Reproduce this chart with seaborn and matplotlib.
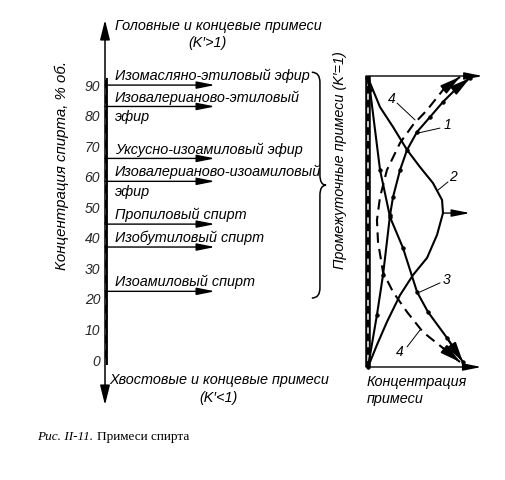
import numpy as np
import pandas as pd
import matplotlib
matplotlib.use("Agg")
import matplotlib.pyplot as plt
from matplotlib.path import Path
from matplotlib.patches import PathPatch
import seaborn as sns

sns.set_theme(style="white")
plt.rcParams['font.family'] = ['Liberation Sans', 'DejaVu Sans']

# ---------------- data ----------------
tick_values = [0, 10, 20, 30, 40, 50, 60, 70, 80, 90]
impurity_top = ["Изомасляно-этиловый эфир", "Изовалерианово-этиловый",
                "Уксусно-изоамиловый эфир", "Изовалерианово-изоамиловый",
                "Пропиловый спирт", "Изобутиловый спирт", "Изоамиловый спирт"]
impurity_bottom = ["", "эфир", "", "эфир", "", "", ""]
impurity_conc = [90, 83, 66, 58.5, 44.5, 37, 22.5]
column_range = [-1.6, 92.3]
brace_range = [20.3, 94.2]

curve1_x = [1.7, 9.2, 14.3, 20.2, 22.7, 28.6, 34.5, 42.9, 53.8, 64.7, 76.5, 87.4]
curve1_y = [0.0, 17.9, 31.6, 52.2, 58.4, 67.7, 74.6, 80.8, 85.9, 91.1, 95.9, 99.3]
curve2_x = [1.7, 11.8, 22.7, 34.5, 45.4, 56.3, 63.9, 64.7, 59.7, 51.3, 39.5, 28.6, 17.6, 9.2, 1.7]
curve2_y = [99.3, 89.3, 82.5, 74.6, 68.7, 63.2, 57.4, 52.9, 45.4, 37.5, 31.6, 24.7, 15.5, 7.6, 0.0]
curve3_x = [0.8, 3.4, 11.8, 20.2, 31.1, 42.9, 52.1, 68.1, 81.5]
curve3_y = [99.3, 95.2, 67.7, 51.5, 40.9, 25.8, 18.9, 10.0, 1.7]
curve4_x = [79.0, 64.7, 51.3, 39.5, 28.6, 17.6, 11.8, 9.2, 10.1, 14.3, 22.7, 34.5, 47.9, 64.7, 79.0]
curve4_y = [99.7, 95.2, 88.3, 83.2, 77.0, 67.7, 58.4, 50.5, 43.0, 32.6, 25.8, 18.9, 12.0, 6.5, 1.7]

curve_labels = ["4", "1", "2", "3", "4"]
label_pos_x = [21.8, 68.9, 73.1, 68.1, 28.6]
label_pos_y = [92.1, 83.2, 65.3, 29.9, 5.2]
leader_from_x = [26.1, 62.2, 68.9, 62.2, 34.5]
leader_from_y = [90.7, 82.1, 63.6, 28.9, 6.9]
leader_to_x = [41.2, 43.7, 60.5, 45.4, 45.4]
leader_to_y = [84.9, 80.4, 60.8, 25.8, 12.7]

FS = 10.4
ital = dict(fontstyle='italic', color='black')

fig = plt.figure(figsize=(5.06, 4.80), dpi=100)
fig.patch.set_facecolor('white')

# ---------------- left panel ----------------
axL = fig.add_axes([105/506, 75/480, 220/506, 385/480])
axL.set_xlim(0, 100)
axL.set_ylim(-14.7, 111.3)
for s in axL.spines.values():
    s.set_visible(False)
axL.set_xticks([])
axL.set_yticks(tick_values)
axL.set_yticklabels([str(v) for v in tick_values], fontstyle='italic', fontsize=10)
axL.tick_params(axis='y', length=0, pad=3.5)
axL.set_facecolor('none')

ap_axis = dict(arrowstyle='-|>,head_length=1.0,head_width=0.25', color='black',
               lw=1.1, mutation_scale=12, shrinkA=0, shrinkB=0)
axL.annotate("", xy=(0, 111.3), xytext=(0, 45), arrowprops=ap_axis, annotation_clip=False)
axL.annotate("", xy=(0, -14.7), xytext=(0, 45), arrowprops=ap_axis, annotation_clip=False)

sns.lineplot(x=[0, 0], y=column_range, color='black', lw=4.2, sort=False,
             estimator=None, ax=axL, solid_capstyle='butt')
axL.plot([0, 0], column_range, color='white', lw=1.2, dashes=(4, 5))

ap_imp = dict(arrowstyle='-|>,head_length=1.1,head_width=0.22', color='black',
              lw=1.0, mutation_scale=10, shrinkA=0, shrinkB=0)
for top, bot, c in zip(impurity_top, impurity_bottom, impurity_conc):
    axL.annotate("", xy=(50, c), xytext=(0, c), arrowprops=ap_imp)
    axL.annotate(top, xy=(4.5, c), xytext=(0, 3.5), textcoords='offset points',
                 va='baseline', ha='left', fontsize=FS, **ital)
    if bot:
        axL.annotate(bot, xy=(4.5, c), xytext=(0, -2.5), textcoords='offset points',
                     va='top', ha='left', fontsize=FS, **ital)

axL.text(51.4, 109.3, "Головные и концевые примеси", ha='center', va='center', fontsize=FS, **ital)
axL.text(46.4, 103.8, "(K′>1)", ha='center', va='center', fontsize=FS, **ital)
axL.text(52.0, -6.5, "Хвостовые и концевые примеси", ha='center', va='center', fontsize=FS, **ital)
axL.text(51.4, -12.4, "(K′<1)", ha='center', va='center', fontsize=FS, **ital)
axL.text(-0.195, 0.621, "Концентрация спирта, % об.", rotation=90, ha='center', va='center',
         transform=axL.transAxes, fontsize=10.8, **ital)

# brace
yb, yt = brace_range
ym = (yb + yt) / 2
xl, xm, xt, r = 94.0, 97.7, 100.5, 3.3
verts = [(xl, yt), (xm, yt), (xm, yt - r), (xm, ym + r), (xm, ym), (xt, ym),
         (xm, ym), (xm, ym - r), (xm, yb + r), (xm, yb), (xl, yb)]
codes = [Path.MOVETO, Path.CURVE3, Path.CURVE3, Path.LINETO, Path.CURVE3, Path.CURVE3,
         Path.CURVE3, Path.CURVE3, Path.LINETO, Path.CURVE3, Path.CURVE3]
axL.add_patch(PathPatch(Path(verts, codes), fill=False, lw=1.1, color='black', clip_on=False))
axL.text(107, 65.4, "Промежуточные примеси (K′=1)", rotation=90, ha='center', va='center',
         fontsize=FS, **ital)

# ---------------- right panel ----------------
axR = fig.add_axes([366/506, 113/480, 119/506, 291/480])
axR.set_xlim(0, 100)
axR.set_ylim(0, 100)
for s in axR.spines.values():
    s.set_visible(False)
axR.set_xticks([])
axR.set_yticks([])
axR.set_facecolor('none')

axR.annotate("", xy=(98, 100), xytext=(0, 100), arrowprops=ap_imp, annotation_clip=False)
axR.annotate("", xy=(97, 0), xytext=(0, 0), arrowprops=ap_imp, annotation_clip=False)
axR.plot([1.5, 1.5], [0, 100], color='black', lw=4.0, solid_capstyle='butt', clip_on=False)
axR.plot([1.5, 1.5], [2, 98], color='white', lw=1.1, dashes=(4, 5), clip_on=False)

ap_c = dict(arrowstyle='-|>,head_length=1.2,head_width=0.3', color='black',
            lw=1.3, mutation_scale=10, shrinkA=0, shrinkB=0)

def draw_curve(xs, ys, arrow_end=True, **kw):
    sns.lineplot(x=xs, y=ys, sort=False, estimator=None, color='black', ax=axR, **kw)
    if arrow_end:
        axR.annotate("", xy=(xs[-1], ys[-1]), xytext=(xs[-2], ys[-2]), arrowprops=ap_c,
                     annotation_clip=False)

mk = dict(marker='o', markersize=2.6, markeredgecolor='black', markerfacecolor='black',
          markeredgewidth=0.5)
draw_curve(curve1_x, curve1_y, lw=1.5, clip_on=False, **mk)
draw_curve(curve2_x, curve2_y, arrow_end=False, lw=1.5, clip_on=False)
draw_curve(curve3_x, curve3_y, lw=1.5, clip_on=False, **mk)
draw_curve(curve4_x, curve4_y, lw=1.5, dashes=(5, 3), clip_on=False)
axR.annotate("", xy=(curve4_x[0], curve4_y[0]), xytext=(curve4_x[1], curve4_y[1]),
             arrowprops=ap_c, annotation_clip=False)
axR.annotate("", xy=(87.4, 52.9), xytext=(64.7, 52.9), arrowprops=ap_imp, annotation_clip=False)

for lab, lx, ly, fx, fy, tx, ty in zip(curve_labels, label_pos_x, label_pos_y,
                                         leader_from_x, leader_from_y, leader_to_x, leader_to_y):
    axR.text(lx, ly, lab, ha='center', va='center', fontsize=10, **ital)
    axR.plot([fx, tx], [fy, ty], color='black', lw=0.7)

axR.text(0.8, -5.2, "Концентрация", ha='left', va='center', fontsize=FS, **ital)
axR.text(0.8, -11.0, "примеси", ha='left', va='center', fontsize=FS, **ital)

# ---------------- caption ----------------
t1 = fig.text(37/506, 1 - 437/480, "Рис. II-11.", family=['Liberation Serif', 'DejaVu Serif'],
              fontstyle='italic', fontsize=9.5, va='center', ha='left', color='black')
axL.annotate("Примеси спирта", xy=(1, 0.5), xycoords=t1, xytext=(2.5, 0),
             textcoords='offset points', va='center', ha='left',
             family=['Liberation Serif', 'DejaVu Serif'], fontsize=9.5, color='black',
             annotation_clip=False)

fig.savefig("out.png", dpi=100, facecolor='white')
